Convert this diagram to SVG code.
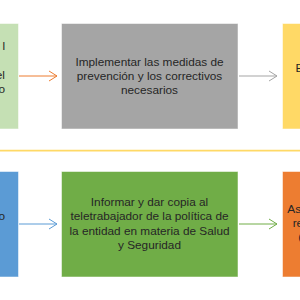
<svg xmlns="http://www.w3.org/2000/svg" width="300" height="300" viewBox="0 0 300 300">
<defs>
<style>
.box{stroke:#ffffff;stroke-opacity:0.5;stroke-width:1}
.t{font-family:"Liberation Sans",Arial,sans-serif;font-size:11.8px;fill:#262626}
.c{text-anchor:middle}
.e{text-anchor:end}
.ln{fill:none;stroke-width:1}
.hd{fill:none;stroke-width:1}
</style>
</defs>
<rect x="0" y="0" width="300" height="300" fill="#ffffff"/>
<g id="n1">
<rect class="box" x="-10" y="23.5" width="28.5" height="105.5" fill="#C5E0B4"/>
<text class="t e" x="5" y="50">l</text>
<text class="t e" x="5" y="79">el</text>
<text class="t e" x="5" y="93">o</text>
</g>
<g id="n2">
<rect class="box" x="61.5" y="23.5" width="176.5" height="105.5" fill="#A5A5A5"/>
<text class="t c" x="149.5" y="65.5">Implementar  las medidas de</text>
<text class="t c" x="149.5" y="79.5">prevención y los correctivos</text>
<text class="t c" x="149.5" y="93.5">necesarios</text>
</g>
<g id="n3">
<rect class="box" x="282.5" y="23.5" width="30" height="105.5" fill="#FFD966"/>
<text class="t" x="295.5" y="72">E</text>
</g>
<g id="n4">
<rect class="box" x="-10" y="171.5" width="28.5" height="105.5" fill="#5B9BD5"/>
<text class="t e" x="5" y="220">o</text>
</g>
<g id="n5">
<rect class="box" x="61.5" y="171.5" width="176.5" height="105.5" fill="#70AD47"/>
<text class="t c" x="149.5" y="205.5">Informar y dar copia al</text>
<text class="t c" x="149.5" y="220">teletrabajador de la política de</text>
<text class="t c" x="149.5" y="234.5">la entidad en  materia de Salud</text>
<text class="t c" x="149.5" y="249">y Seguridad</text>
</g>
<g id="n6">
<rect class="box" x="282.5" y="171.5" width="30" height="105.5" fill="#ED7D31"/>
<text class="t" x="287.3" y="212.5">As</text>
<text class="t" x="292.7" y="227">re</text>
<text class="t" x="298.3" y="241">(</text>
</g>
<g id="connectors">
<line x1="0" y1="150.7" x2="300" y2="150.7" stroke="#FFD966" stroke-width="1.8"/>
<line class="ln" x1="19" y1="76" x2="57" y2="76" stroke="#ED7D31"/>
<polyline class="hd" points="49,71 57,76 49,81" stroke="#ED7D31"/>
<line class="ln" x1="239" y1="76" x2="277" y2="76" stroke="#A5A5A5"/>
<polyline class="hd" points="269,71 277,76 269,81" stroke="#A5A5A5"/>
<line class="ln" x1="19" y1="224" x2="57" y2="224" stroke="#5B9BD5"/>
<polyline class="hd" points="49,219 57,224 49,229" stroke="#5B9BD5"/>
<line class="ln" x1="239" y1="224" x2="277" y2="224" stroke="#70AD47"/>
<polyline class="hd" points="269,219 277,224 269,229" stroke="#70AD47"/>
</g>
</svg>
